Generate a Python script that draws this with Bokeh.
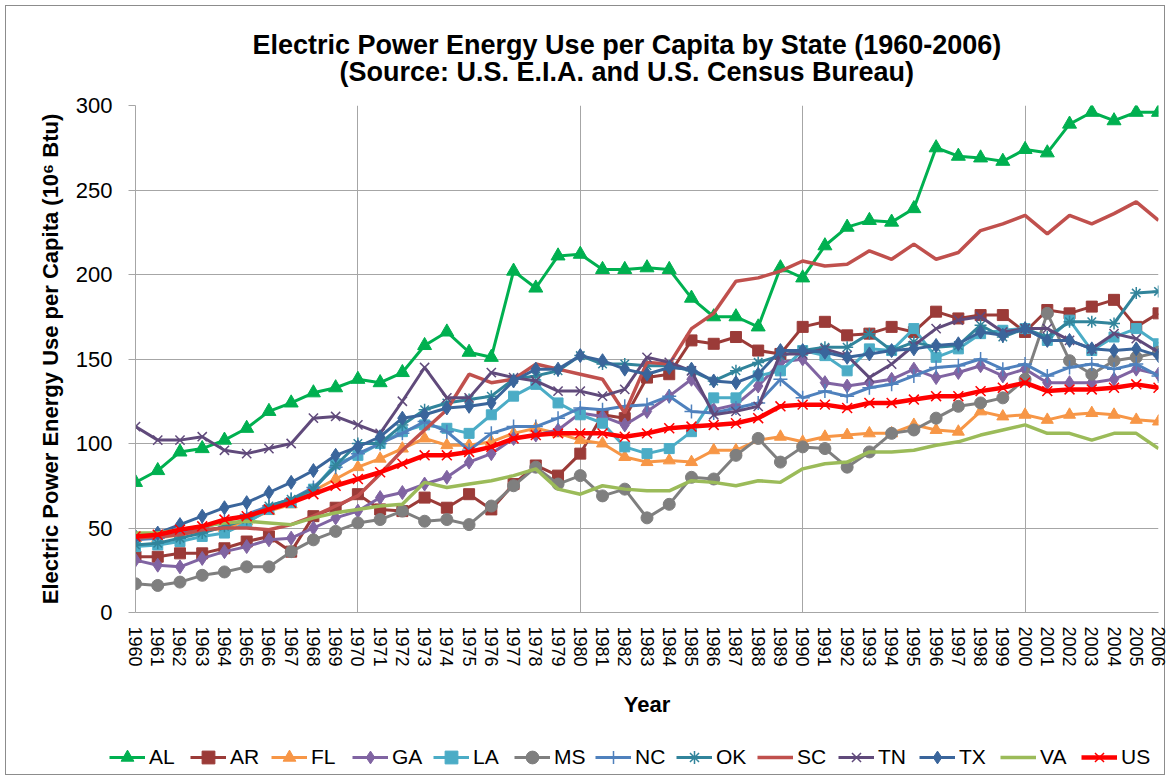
from bokeh.plotting import figure
from bokeh.layouts import column
from bokeh.models import Range1d, FixedTicker, Legend, LegendItem, Title
from bokeh.embed import file_html
from bokeh.resources import INLINE

years = list(range(1960, 2007))

AL = [77, 84, 95, 97, 102, 109, 119, 124, 130, 133,
      138, 136, 142, 158, 166, 154, 151, 202, 192, 211,
      212, 203, 203, 204, 203, 186, 175, 175, 169, 204,
      198, 217, 228, 232, 231, 239, 275, 270, 269, 267,
      274, 272, 289, 296, 291, 296, 296]
AR = [33, 33, 35, 35, 38, 42, 45, 36, 57, 62,
      70, 61, 60, 68, 62, 70, 61, 76, 87, 81,
      94, 117, 115, 139, 141, 161, 159, 163, 155, 153,
      169, 172, 164, 165, 169, 166, 178, 174, 176, 176,
      166, 179, 177, 181, 185, 169, 177]
FL = [44, 44, 46, 48, 50, 54, 60, 64, 72, 79,
      86, 91, 97, 103, 99, 99, 101, 106, 109, 106,
      102, 100, 92, 89, 90, 89, 96, 96, 102, 104,
      101, 104, 105, 106, 106, 111, 108, 107, 119, 116,
      117, 114, 117, 118, 117, 114, 113]
GA = [31, 28, 27, 32, 36, 39, 43, 44, 50, 56,
      60, 68, 71, 76, 80, 89, 94, 103, 105, 108,
      118, 116, 111, 119, 128, 138, 120, 123, 134, 148,
      150, 136, 134, 136, 138, 144, 139, 142, 146, 140,
      144, 136, 136, 136, 138, 144, 141]
LA = [39, 40, 42, 45, 47, 53, 61, 65, 73, 88,
      93, 100, 107, 111, 109, 106, 117, 128, 135, 124,
      117, 112, 98, 94, 97, 107, 127, 127, 140, 143,
      155, 152, 143, 156, 155, 168, 151, 156, 165, 167,
      168, 161, 173, 155, 163, 168, 159]
MS = [17, 16, 18, 22, 24, 27, 27, 36, 43, 48,
      53, 55, 60, 54, 55, 52, 63, 75, 86, 76,
      81, 69, 73, 56, 64, 80, 79, 93, 103, 89,
      98, 97, 86, 95, 106, 108, 115, 122, 124, 127,
      138, 177, 149, 141, 149, 151, 154]
NC = [43, 44, 47, 50, 54, 58, 63, 67, 74, 86,
      94, 100, 106, 113, 107, 96, 106, 110, 110, 115,
      121, 120, 122, 123, 128, 119, 118, 121, 124, 138,
      127, 131, 128, 133, 135, 140, 145, 146, 150, 144,
      147, 140, 145, 147, 144, 147, 140]
OK = [40, 41, 44, 47, 51, 55, 63, 67, 73, 87,
      100, 100, 111, 120, 124, 126, 128, 138, 140, 143,
      152, 147, 147, 146, 146, 143, 137, 143, 148, 152,
      155, 157, 157, 165, 155, 160, 157, 158, 170, 163,
      168, 163, 172, 172, 171, 189, 190]
SC = [44, 45, 46, 49, 50, 50, 49, 52, 57, 63,
      69, 82, 96, 108, 120, 141, 136, 138, 147, 144,
      141, 138, 118, 148, 147, 168, 177, 196, 198, 202,
      208, 205, 206, 214, 209, 218, 209, 213, 226, 230,
      235, 224, 235, 230, 236, 243, 232]
TN = [110, 102, 102, 104, 96, 94, 97, 100, 115, 116,
      111, 106, 125, 145, 127, 127, 142, 139, 137, 131,
      131, 128, 132, 151, 148, 143, 117, 119, 122, 153,
      153, 156, 152, 139, 147, 158, 168, 173, 175, 166,
      168, 168, 161, 156, 165, 162, 154]
TX = [45, 47, 52, 57, 62, 65, 71, 77, 84, 93,
      98, 104, 115, 117, 121, 122, 124, 137, 144, 144,
      152, 149, 144, 141, 145, 144, 137, 136, 141, 155,
      155, 154, 151, 153, 155, 156, 158, 159, 166, 164,
      168, 161, 161, 156, 155, 156, 152]
VA = [47, 47, 49, 51, 53, 54, 53, 52, 56, 59,
      61, 63, 64, 77, 74, 76, 78, 81, 85, 73,
      70, 75, 73, 72, 72, 78, 77, 75, 78, 77,
      85, 88, 89, 95, 95, 96, 99, 101, 105, 108,
      111, 106, 106, 102, 106, 106, 97]
US = [45, 46, 49, 51, 55, 57, 61, 65, 70, 75,
      79, 83, 88, 93, 93, 95, 98, 103, 105, 106,
      106, 106, 104, 106, 109, 110, 111, 112, 115, 122,
      123, 123, 121, 124, 124, 126, 128, 128, 131, 133,
      136, 131, 132, 132, 133, 135, 133]

y_ticks = [0, 50, 100, 150, 200, 250, 300]
x_grid_years = [1960, 1970, 1980, 1990, 2000]

title_line1 = "Electric Power Energy Use per Capita by State (1960-2006)"
title_line2 = "(Source: U.S. E.I.A. and U.S. Census Bureau)"
y_label = "Electric Power Energy Use per Capita (10\u2076 Btu)"
x_label = "Year"

# name, values, color, marker, marker size, marker line width, line width
series = [
    ("AL", AL, "#00B050", "triangle", 14, 1, 3),
    ("AR", AR, "#9B3B38", "square", 11, 1, 3),
    ("FL", FL, "#F79646", "triangle", 12, 1, 3),
    ("GA", GA, "#8064A2", "diamond", 14, 1, 3),
    ("LA", LA, "#4BACC6", "square", 10, 1, 3),
    ("MS", MS, "#7F7F7F", "circle", 12, 1, 3),
    ("NC", NC, "#4F81BD", "cross", 14, 1.5, 3),
    ("OK", OK, "#31849B", "asterisk", 12, 1.5, 3),
    ("SC", SC, "#C0504D", None, 0, 0, 3.5),
    ("TN", TN, "#604A7B", "x", 13, 1.5, 3),
    ("TX", TX, "#3A659B", "diamond", 14, 1, 3),
    ("VA", VA, "#9BBB59", None, 0, 0, 3.5),
    ("US", US, "#FF0000", "x", 14, 1.5, 4.5),
]

FONT = "Liberation Sans"
GRID = "#A6A6A6"
W = 1170
H_MAIN = 736
H_LEG = 44

p = figure(width=W, height=H_MAIN, output_backend="svg", toolbar_location=None,
           title=None,
           x_range=Range1d(1960, 2006), y_range=Range1d(0, 300),
           min_border_left=135, min_border_right=12,
           min_border_top=105, min_border_bottom=H_MAIN - 612)
p.frame_align = False
p.background_fill_color = "white"
p.border_fill_alpha = 0
p.outline_line_color = None

spacer = Title(text=" ", text_font_size="1px", standoff=16)
p.add_layout(spacer, "above")
t2 = Title(text=title_line2, align="left", offset=204, text_font=FONT,
           text_font_size="27px", text_font_style="bold", text_color="black",
           standoff=0)
p.add_layout(t2, "above")
t1 = Title(text=title_line1, align="left", offset=117, text_font=FONT,
           text_font_size="27px", text_font_style="bold", text_color="black",
           standoff=-10)
p.add_layout(t1, "above")

# legend strip below the chart (its glyphs use the same series, outside its view)
q = figure(width=W, height=H_LEG, output_backend="svg", toolbar_location=None,
           title=None, x_axis_location=None, y_axis_location=None,
           x_range=Range1d(0, 1), y_range=Range1d(0, 1), min_border=0)
q.frame_align = False
q.background_fill_alpha = 0
q.border_fill_alpha = 0
q.outline_line_color = None
q.grid.visible = False

items = []
for name, vals, color, marker, msize, mlw, lw in series:
    p.line(years, vals, line_color=color, line_width=lw)
    if marker is not None:
        p.scatter(years, vals, marker=marker, size=msize,
                  fill_color=color, line_color=color, line_width=mlw)
    rs = [q.line(years, vals, line_color=color, line_width=lw)]
    if marker is not None:
        rs.append(q.scatter(years, vals, marker=marker, size=msize,
                            fill_color=color, line_color=color, line_width=mlw))
    items.append(LegendItem(label=name, renderers=rs))

legend = Legend(items=items, orientation="horizontal", location=(109, 7),
                glyph_width=36, glyph_height=32, label_standoff=4,
                label_width=32, spacing=9, padding=0, margin=0,
                border_line_color=None, background_fill_alpha=0,
                label_text_font=FONT, label_text_font_size="21px",
                label_text_color="black")
q.add_layout(legend)

p.xaxis.ticker = FixedTicker(ticks=years)
p.xaxis.major_label_overrides = {yr: str(yr) for yr in years}
p.xaxis.major_label_orientation = "vertical"
p.xaxis.major_label_text_font = FONT
p.xaxis.major_label_text_font_size = "18px"
p.xaxis.major_label_text_color = "black"
p.xaxis.major_label_standoff = 14
p.xaxis.major_tick_out = 0
p.xaxis.major_tick_in = 0
p.xaxis.minor_tick_out = 0
p.xaxis.minor_tick_in = 0
p.xaxis.axis_line_color = GRID
p.xaxis.axis_label = x_label
p.xaxis.axis_label_text_font = FONT
p.xaxis.axis_label_text_font_size = "22px"
p.xaxis.axis_label_text_font_style = "bold"
p.xaxis.axis_label_text_color = "black"
p.xaxis.axis_label_standoff = 22

p.yaxis.ticker = FixedTicker(ticks=y_ticks)
p.yaxis.major_label_text_font = FONT
p.yaxis.major_label_text_font_size = "22px"
p.yaxis.major_label_text_color = "black"
p.yaxis.major_label_standoff = 16
p.yaxis.major_tick_out = 7
p.yaxis.major_tick_in = 0
p.yaxis.major_tick_line_color = GRID
p.yaxis.minor_tick_out = 0
p.yaxis.minor_tick_in = 0
p.yaxis.axis_line_color = GRID
p.yaxis.axis_label = y_label
p.yaxis.axis_label_text_font = FONT
p.yaxis.axis_label_text_font_size = "22px"
p.yaxis.axis_label_text_font_style = "bold"
p.yaxis.axis_label_text_color = "black"
p.yaxis.axis_label_standoff = 10

p.xgrid.ticker = FixedTicker(ticks=x_grid_years)
p.ygrid.ticker = FixedTicker(ticks=y_ticks)
p.grid.grid_line_color = GRID
p.grid.grid_line_width = 1

layout = column(p, q, spacing=0)
layout.styles = {"outline": "1px solid #8C8C8C", "outline-offset": "-6px",
                 "background-color": "white"}
open("out.html", "w").write(file_html(layout, INLINE))
